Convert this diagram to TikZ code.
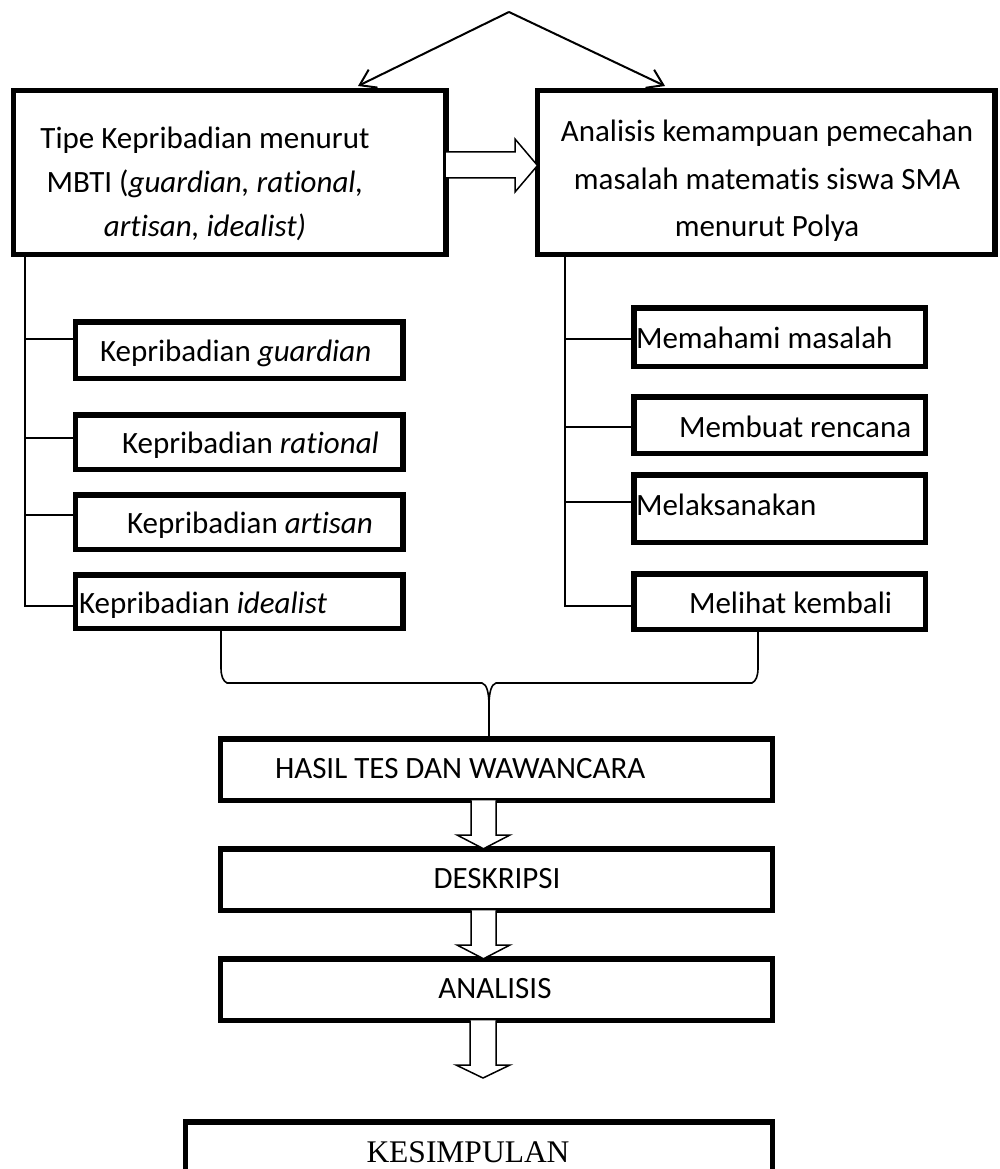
\documentclass[tikz,border=0pt]{standalone}
\usepackage{fontspec}
\setmainfont{Carlito}[Ligatures=NoCommon]
\newfontfamily\tnrfont{Liberation Serif}
\usetikzlibrary{arrows.meta}
\begin{document}
\begin{tikzpicture}[x=1pt,y=-1pt,
  box/.style={draw, line width=5.5pt, inner sep=0pt, outer sep=0pt},
  conn/.style={line width=2pt},
  bracel/.style={line width=1.6pt},
  barrow/.style={draw, fill=white, line width=1.5pt, line join=miter},
  toparrow/.style={line width=2pt, -{Straight Barb[length=15pt,width=20pt]}},
  txt/.style={inner sep=0pt, outer sep=0pt, font=\fontsize{31}{39}\selectfont},
  txtl/.style={inner sep=0pt, outer sep=0pt, font=\fontsize{31}{44}\selectfont},
  txtr/.style={inner sep=0pt, outer sep=0pt, font=\fontsize{31}{47.5}\selectfont},
  ser/.style={inner sep=0pt, outer sep=0pt, font=\tnrfont\fontsize{31.5}{38}\selectfont}
]
\useasboundingbox (0,0) rectangle (999,1169);
\clip (0,0) rectangle (999,1169);

% top boxes
\node[box, minimum width=432.5pt, minimum height=164pt] (tl) at (229.75,172.5) {};
\node[box, minimum width=457.5pt, minimum height=164pt] (tr) at (766.25,172.5) {};
\node[txtl, align=center] (tltext) at (205,184) {Tipe Kepribadian menurut\\MBTI (\textit{guardian, rational,}\\\textit{artisan, idealist)}};
\node[txtr, align=center] (trtext) at (767,181) {Analisis kemampuan pemecahan\\masalah matematis siswa SMA\\menurut Polya};

% top arrows
\coordinate (apex) at (509,12);
\coordinate (ltip) at (358,86);
\coordinate (rtip) at (665,86);
\draw[toparrow] (apex) -- (ltip);
\draw[toparrow] (apex) -- (rtip);

% block arrow between top boxes
\draw[barrow] (tl.east |- 0,152) -- (515,152) -- (515,139) -- (tr.west |- 0,165.5) -- (515,192) -- (515,178) -- (tl.east |- 0,178);

% left sub boxes
\node[box, minimum width=327.5pt, minimum height=56.5pt] (k1) at (239.25,350) {};
\node[box, minimum width=327.5pt, minimum height=54.5pt] (k2) at (239.25,442) {};
\node[box, minimum width=327.5pt, minimum height=54.5pt] (k3) at (239.25,522) {};
\node[box, minimum width=327.5pt, minimum height=53.5pt] (k4) at (239.25,601.5) {};
\node[txt, anchor=base west] (k1t) at (100,361.5) {Kepribadian \textit{guardian}};
\node[txt, anchor=base west] (k2t) at (122,453) {Kepribadian \textit{rational}};
\node[txt, anchor=base west] (k3t) at (127,533) {Kepribadian \textit{artisan}};
\node[txt, anchor=base west] (k4t) at (79,613) {Kepribadian \textit{idealist}};

% right sub boxes
\node[box, minimum width=291.5pt, minimum height=58.5pt] (p1) at (779.5,337) {};
\node[box, minimum width=291.5pt, minimum height=56.5pt] (p2) at (779.5,425) {};
\node[box, minimum width=291.5pt, minimum height=67.5pt] (p3) at (779.5,508.5) {};
\node[box, minimum width=291.5pt, minimum height=55.5pt] (p4) at (779.5,601.5) {};
\node[txt, anchor=base west] (p1t) at (636,348) {Memahami masalah};
\node[txt, anchor=base west] (p2t) at (679,437) {Membuat rencana};
\node[txt, anchor=base west] (p3t) at (636,515) {Melaksanakan};
\node[txt, anchor=base west] (p4t) at (689,613) {Melihat kembali};

% left bus
\coordinate (lbus) at (25,606);
\draw[conn] (lbus |- tl.south) -- (lbus) -- (k4.west |- lbus);
\draw[conn] (lbus |- 0,339) -- (k1.west |- 0,339);
\draw[conn] (lbus |- 0,438) -- (k2.west |- 0,438);
\draw[conn] (lbus |- 0,515) -- (k3.west |- 0,515);

% right bus
\coordinate (rbus) at (565,606);
\draw[conn] (rbus |- tr.south) -- (rbus) -- (p4.west |- rbus);
\draw[conn] (rbus |- 0,339) -- (p1.west |- 0,339);
\draw[conn] (rbus |- 0,427) -- (p2.west |- 0,427);
\draw[conn] (rbus |- 0,502) -- (p3.west |- 0,502);

% lower boxes
\node[box, minimum width=552pt, minimum height=61.5pt] (hasil) at (496.5,769.5) {};
\node[box, minimum width=552pt, minimum height=61.5pt] (desk) at (496.5,879.5) {};
\node[box, minimum width=552pt, minimum height=61.5pt] (anal) at (496.5,989.5) {};
\node[box, minimum width=587pt, minimum height=80pt] (kes) at (479,1161.75) {};
\node[txt, anchor=base west] (hasilt) at (275,778) {HASIL TES DAN WAWANCARA};
\node[txt, anchor=base] (deskt) at (497,888) {DESKRIPSI};
\node[txt, anchor=base] (analt) at (495,998) {ANALISIS};
\node[ser, anchor=base] (kest) at (468,1162) {KESIMPULAN};

% brace
\coordinate (bl) at (221,631);
\coordinate (br) at (758,631);
\coordinate (bm) at (489,705);
\draw[bracel] (bl) -- (221,668) .. controls (221,676) and (223,681) .. (227,683) -- (482,683) .. controls (487,684) and (489,694) .. (bm) -- (bm |- hasil.north);
\draw[bracel] (br) -- (758,668) .. controls (758,676) and (756,681) .. (752,683) -- (496,683) .. controls (491,684) and (489,694) .. (bm);

% down block arrows
\draw[barrow] (471,0 |- hasil.south) -- (471,835) -- (457,835) -- (483.5,0 |- desk.north) -- (510,835) -- (496,835) -- (496,0 |- hasil.south);
\draw[barrow] (471,0 |- desk.south) -- (471,945) -- (457,945) -- (483.5,0 |- anal.north) -- (510,945) -- (496,945) -- (496,0 |- desk.south);
\draw[barrow] (470,0 |- anal.south) -- (470,1065) -- (456,1065) -- (483,1078) -- (510,1065) -- (496,1065) -- (496,0 |- anal.south);
\end{tikzpicture}
\end{document}
